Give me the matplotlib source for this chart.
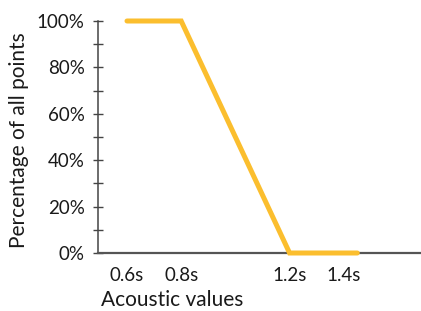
import matplotlib
import matplotlib.pyplot as plt
import matplotlib.ticker as mticker

matplotlib.use("Agg")

# data
ACOUSTIC = [0.6, 0.8, 1.2, 1.45]
PERCENT = [100, 100, 0, 0]
X_TICKS = [0.6, 0.8, 1.2, 1.4]
X_LABELS = ["0.6s", "0.8s", "1.2s", "1.4s"]
Y_TICKS = [0, 20, 40, 60, 80, 100]
Y_MINOR = [10, 30, 50, 70, 90]

LINE_COLOR = "#FBBE2E"
AXIS_COLOR = "#444444"
TEXT_COLOR = "#1a1a1a"

plt.rcParams["font.family"] = ["Lato", "DejaVu Sans"]
plt.rcParams["font.weight"] = 400

fig = plt.figure(figsize=(4.21, 3.11), dpi=100)
ax = fig.add_axes([98 / 421, 1 - 253 / 311, 1 - 98 / 421, (253 - 21) / 311])

ax.plot(
    ACOUSTIC,
    PERCENT,
    color=LINE_COLOR,
    linewidth=3.6,
    solid_capstyle="round",
    solid_joinstyle="miter",
    clip_on=False,
    zorder=3,
)

ax.set_xlim(0.493, 1.685)
ax.set_ylim(0, 100)

for side in ("top", "right"):
    ax.spines[side].set_visible(False)
ax.spines["left"].set_color(AXIS_COLOR)
ax.spines["bottom"].set_color("#555555")
ax.spines["left"].set_linewidth(1.1)
ax.spines["bottom"].set_linewidth(1.6)

ax.set_yticks(Y_TICKS)
ax.set_yticks(Y_MINOR, minor=True)
ax.yaxis.set_major_formatter(mticker.FuncFormatter(lambda v, _: f"{v:.0f}%"))
ax.tick_params(axis="y", which="both", direction="inout", length=7, width=1,
               color=AXIS_COLOR, labelsize=13.5, labelcolor=TEXT_COLOR, pad=6)

ax.set_xticks(X_TICKS)
ax.set_xticklabels(X_LABELS)
ax.tick_params(axis="x", length=0, labelsize=13.5, labelcolor=TEXT_COLOR, pad=10)

ax.set_xlabel("Acoustic values", fontsize=15, color=TEXT_COLOR)
ax.xaxis.set_label_coords((172 - 98) / (421 - 98), -(290 - 253) / 232)
ax.set_ylabel("Percentage of all points", fontsize=15, color=TEXT_COLOR)
ax.yaxis.set_label_coords(-(98 - 29) / 323, 0.5 - 3 / 232)

fig.savefig("out.png", dpi=100)
